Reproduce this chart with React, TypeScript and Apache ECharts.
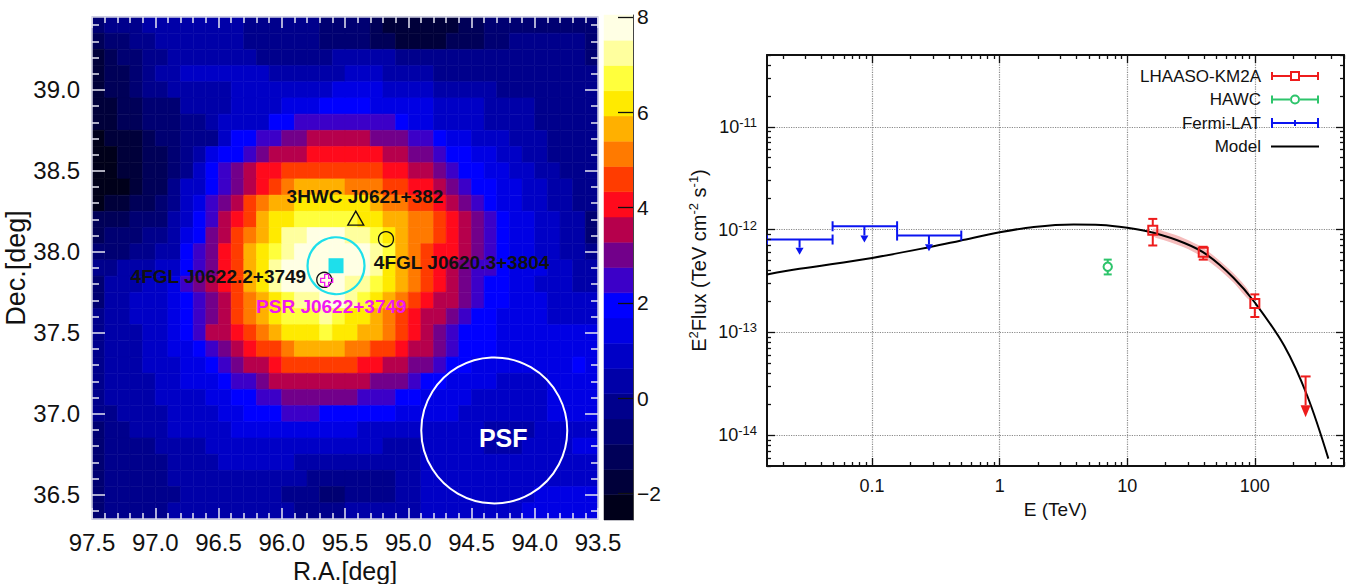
import React, { useEffect, useRef } from "react";
import * as echarts from "echarts";

const FONT = "'Liberation Sans', Arial, Helvetica, sans-serif";

// ---------------- Left panel: significance map ----------------
const raCenters = [97.45, 97.35, 97.25, 97.15, 97.05, 96.95, 96.85, 96.75, 96.65, 96.55, 96.45, 96.35, 96.25, 96.15, 96.05, 95.95, 95.85, 95.75, 95.65, 95.55, 95.45, 95.35, 95.25, 95.15, 95.05, 94.95, 94.85, 94.75, 94.65, 94.55, 94.45, 94.35, 94.25, 94.15, 94.05, 93.95, 93.85, 93.75, 93.65, 93.55];
const decCenters = [39.4, 39.3, 39.2, 39.1, 39.0, 38.9, 38.8, 38.7, 38.6, 38.5, 38.4, 38.3, 38.2, 38.1, 38.0, 37.9, 37.8, 37.7, 37.6, 37.5, 37.4, 37.3, 37.2, 37.1, 37.0, 36.9, 36.8, 36.7, 36.6, 36.5, 36.4];

// significance (sigma), one row per Dec (top to bottom), one column per RA (left to right)
const significance = [
  [-0.7,-0.2,-0.2,-0.2,0.4,0.4,0.4,0.4,0.4,0.4,0.4,0.4,-0.2,-0.2,-0.2,-0.2,-0.2,-0.2,-0.7,-0.7,-0.7,-0.7,-1.2,-1.8,-1.8,-1.8,-1.8,-1.8,-1.8,-1.2,-1.2,-0.7,-0.7,-0.7,-0.7,-0.7,-0.7,-0.7,-0.7,-0.7],
  [-1.2,-0.7,-0.7,-0.2,-0.2,0.4,0.4,0.4,0.4,0.4,0.4,0.4,-0.2,-0.2,-0.2,-0.2,-0.2,-0.2,-0.7,-0.7,-0.7,-0.7,-1.2,-1.2,-1.8,-1.8,-1.8,-1.8,-1.2,-1.2,-1.2,-0.7,-0.7,-0.2,-0.2,-0.2,-0.2,-0.2,-0.2,-0.7],
  [-1.8,-1.2,-0.7,-0.7,-0.2,-0.2,0.4,0.4,0.4,0.4,0.4,0.4,0.4,-0.2,-0.2,-0.2,-0.2,-0.2,-0.2,0.4,0.4,0.4,0.4,0.4,-0.2,-0.2,-0.2,-0.2,-0.2,-0.2,-0.2,-0.2,-0.2,-0.2,-0.2,-0.2,-0.2,-0.2,-0.2,-0.7],
  [-1.8,-1.2,-1.2,-0.7,-0.2,0.4,0.4,0.9,0.9,0.9,0.9,0.9,0.9,0.9,0.4,0.4,0.4,0.4,0.4,0.4,0.9,0.9,0.9,0.4,0.4,0.4,0.4,-0.2,-0.2,-0.2,-0.2,-0.2,-0.2,-0.2,-0.2,-0.2,-0.2,-0.2,-0.2,-0.2],
  [-1.8,-1.2,-1.2,-0.7,-0.2,-0.2,0.4,0.4,0.4,0.4,0.4,0.9,0.9,0.9,0.9,0.9,0.9,0.9,0.9,1.4,1.4,1.4,1.4,0.9,0.9,0.9,0.9,0.4,0.4,0.4,0.4,0.4,-0.2,-0.2,-0.2,-0.2,-0.2,-0.2,-0.2,-0.2],
  [-1.8,-1.8,-1.2,-1.2,-0.7,-0.7,-0.7,0.4,0.4,0.4,0.4,0.9,0.9,0.9,0.9,1.4,1.4,1.4,1.9,1.9,1.9,1.9,1.4,1.4,1.4,1.4,1.4,0.9,0.9,0.9,0.9,0.4,0.4,0.4,0.4,-0.2,-0.2,-0.2,-0.2,-0.2],
  [-1.8,-1.8,-1.2,-1.2,-0.7,-0.7,-0.7,-0.2,-0.2,0.4,0.9,0.9,0.9,0.9,1.9,1.9,2.5,2.5,2.5,2.5,2.5,2.5,2.5,2.5,1.9,1.4,1.4,0.9,0.9,0.9,0.9,0.4,0.4,0.4,0.4,-0.2,-0.2,-0.2,-0.2,-0.2],
  [-2.3,-1.8,-1.8,-1.8,-1.2,-0.7,-0.7,-0.2,-0.2,-0.2,0.9,1.9,1.9,2.5,2.5,3.0,3.0,3.5,3.5,3.5,3.5,3.5,3.0,3.0,3.0,2.5,2.5,1.9,1.4,1.4,0.9,0.9,0.9,0.4,0.4,0.4,-0.2,-0.2,-0.2,-0.2],
  [-2.3,-2.3,-1.8,-1.8,-1.2,-1.2,-0.7,-0.2,0.4,1.4,1.9,1.9,2.5,3.0,3.5,3.5,3.5,4.1,4.1,4.1,4.1,4.1,4.1,3.5,3.5,3.0,3.0,2.5,1.9,1.9,1.4,1.4,0.9,0.9,0.4,0.4,-0.2,-0.2,-0.2,-0.2],
  [-2.3,-2.3,-1.8,-1.8,-1.2,-1.2,-0.7,-0.2,0.9,1.9,2.5,3.0,3.5,4.1,4.1,4.6,4.6,4.6,4.6,4.6,4.6,4.6,4.6,4.1,4.1,3.5,3.5,3.0,2.5,1.9,1.9,1.4,1.4,0.9,0.9,0.4,0.4,-0.2,-0.2,-0.2],
  [-2.3,-2.3,-2.3,-1.8,-1.2,-1.2,-0.2,0.9,0.9,1.9,2.5,3.0,3.5,4.1,4.6,5.1,5.7,5.7,5.7,5.7,5.1,5.1,5.1,4.6,4.6,4.1,4.1,3.5,3.0,2.5,1.9,1.9,1.4,1.4,0.9,0.9,0.4,0.4,-0.2,-0.2],
  [-2.3,-1.8,-1.8,-1.2,-1.2,-0.7,-0.2,0.9,1.4,2.5,3.0,3.5,4.6,5.1,5.7,5.7,6.2,6.2,6.2,6.2,6.2,6.2,5.7,5.1,5.1,4.6,4.6,4.1,3.5,3.0,2.5,1.9,1.4,1.4,0.9,0.9,0.4,0.4,-0.2,-0.2],
  [-1.2,-1.2,-1.2,-0.7,-0.7,-0.7,0.4,0.9,1.9,2.5,3.5,4.1,4.6,5.7,6.2,6.2,6.7,6.7,6.7,6.7,6.7,6.2,6.2,5.7,5.7,5.1,5.1,4.6,4.1,3.5,3.0,2.5,1.9,1.4,1.4,0.9,0.9,0.4,0.4,-0.7],
  [-1.2,-0.7,-0.7,-0.7,-0.2,-0.2,0.4,1.4,1.9,3.0,3.5,4.6,5.1,5.7,6.2,7.2,7.2,7.8,7.8,7.8,7.2,7.2,6.7,6.2,5.7,5.1,5.1,4.6,4.1,3.5,3.0,2.5,1.9,1.4,1.4,0.9,0.9,0.4,0.4,-0.7],
  [-0.7,-0.7,-0.7,-0.2,-0.2,0.4,0.4,1.9,2.5,3.0,4.1,4.6,5.7,6.2,6.7,7.2,7.8,7.8,7.8,7.8,7.8,7.8,7.2,6.7,5.7,5.1,4.6,4.1,4.1,3.5,3.0,2.5,1.9,1.4,1.4,0.9,0.9,0.4,0.4,-0.2],
  [-0.2,-0.2,0.4,0.4,0.4,0.9,0.9,1.9,2.5,3.0,4.1,4.6,5.7,6.2,7.2,7.8,7.8,7.8,7.8,7.8,7.8,7.8,7.2,6.2,5.7,5.1,4.6,4.1,3.5,3.0,2.5,2.5,1.9,1.4,1.4,1.4,0.9,0.9,0.4,0.4],
  [-0.7,0.4,0.4,0.4,0.9,0.9,1.4,2.5,3.0,3.5,4.1,4.6,5.7,6.2,7.2,7.8,7.8,7.8,7.8,7.8,7.2,7.2,6.7,6.2,5.7,5.1,4.6,4.1,3.5,3.0,2.5,1.9,1.9,1.4,1.4,0.9,0.9,0.9,0.4,0.4],
  [-0.7,0.4,0.4,0.9,0.9,0.9,1.4,1.9,2.5,3.0,3.5,4.6,5.1,5.7,6.2,6.7,7.2,7.2,7.8,7.8,7.2,6.7,6.2,5.7,5.1,4.6,4.1,3.5,3.5,3.0,2.5,1.9,1.9,1.4,1.4,1.4,0.9,0.9,0.9,0.9],
  [-0.2,0.4,0.4,0.9,0.9,0.9,1.4,1.9,2.5,3.0,3.5,4.6,5.1,5.7,6.2,6.7,6.7,6.7,7.2,6.7,6.2,6.2,5.7,5.1,4.6,4.1,3.5,3.5,3.0,2.5,1.9,1.9,1.4,1.4,1.4,1.4,0.9,0.9,0.9,0.9],
  [-0.2,0.4,0.4,0.4,0.9,0.9,1.4,1.9,2.5,3.5,3.5,4.1,4.6,5.1,5.7,6.2,6.2,6.2,6.7,6.2,6.2,5.7,5.7,5.1,4.6,4.1,3.5,3.0,2.5,1.9,1.9,1.9,1.4,1.4,1.4,1.4,1.4,1.4,1.4,1.4],
  [-0.2,0.4,0.4,0.4,0.9,0.9,1.4,1.4,1.9,2.5,3.0,3.5,4.1,4.6,4.6,5.1,5.7,5.7,5.7,5.7,5.1,5.1,4.6,4.6,4.1,3.5,3.5,3.0,2.5,1.9,1.9,1.9,1.4,1.4,1.4,1.4,1.4,1.4,1.4,1.4],
  [-0.2,0.4,0.4,0.4,0.9,0.9,0.9,1.4,1.4,1.9,2.5,3.0,3.5,3.5,4.1,4.6,4.6,4.6,4.6,4.6,4.6,4.1,4.1,3.5,3.5,3.0,3.0,2.5,1.9,1.9,1.4,1.4,1.4,1.4,1.4,1.4,1.4,1.4,1.9,1.4],
  [-0.2,0.4,0.4,0.4,0.4,0.9,0.9,1.4,1.4,1.4,1.9,2.5,2.5,3.0,3.5,3.5,3.5,3.5,3.5,3.5,3.5,3.5,3.0,3.0,3.0,2.5,1.9,1.9,1.4,1.4,1.4,1.4,0.9,0.9,0.9,0.9,1.4,1.4,1.4,1.4],
  [-0.2,0.4,0.4,0.4,0.4,0.9,0.9,0.9,0.9,1.4,1.4,1.9,1.9,2.5,2.5,3.0,3.0,3.0,3.0,3.0,3.0,2.5,2.5,2.5,1.9,1.9,1.4,1.4,1.4,1.4,0.9,0.9,0.9,0.9,0.9,0.9,1.4,1.4,1.4,1.4],
  [-0.2,-0.2,0.4,0.4,0.4,0.4,0.9,0.9,0.9,0.9,1.4,1.4,1.9,1.9,1.9,2.5,2.5,2.5,1.9,1.9,1.9,1.9,1.9,1.9,1.4,1.4,1.4,1.4,1.4,0.9,0.9,0.9,0.9,0.9,0.9,0.9,1.4,1.4,1.4,1.4],
  [-0.7,-0.2,-0.2,0.4,0.4,0.4,0.9,0.9,0.9,0.9,0.9,1.4,1.4,1.4,1.4,1.4,1.4,1.4,1.4,1.4,1.4,0.9,0.9,0.9,0.9,0.9,0.9,0.9,0.9,0.9,0.9,0.4,0.4,0.4,0.4,0.9,0.9,0.9,0.9,0.9],
  [-0.7,-0.2,-0.2,-0.2,-0.2,0.4,0.4,0.4,0.4,0.9,0.9,0.9,0.9,0.9,0.9,0.9,0.9,0.9,0.9,0.9,0.9,0.9,0.9,0.4,0.4,0.4,0.9,0.9,0.9,0.9,0.9,0.4,0.4,0.4,0.9,0.9,0.9,0.9,1.4,1.4],
  [-0.7,-0.2,-0.2,-0.2,-0.2,-0.2,0.4,0.4,0.4,0.4,0.9,0.9,0.9,0.9,0.9,0.9,0.4,0.4,0.4,0.4,0.4,0.4,0.4,0.4,0.4,0.4,0.9,0.9,0.9,0.9,0.9,0.9,0.9,0.9,0.9,0.9,0.9,0.9,0.9,0.9],
  [-0.7,-0.2,-0.2,-0.2,-0.2,-0.2,0.4,0.4,0.4,0.4,0.4,0.4,0.4,0.4,0.4,0.4,0.4,-0.2,-0.2,-0.2,-0.2,-0.2,-0.2,-0.2,0.4,0.4,0.9,0.9,0.9,0.9,0.9,0.9,0.9,0.9,0.9,0.9,0.9,0.9,0.9,0.9],
  [-0.7,-0.2,-0.2,-0.2,-0.2,-0.2,-0.2,0.4,0.4,0.4,0.4,0.4,0.4,0.4,0.4,-0.2,-0.2,-0.2,-0.7,-0.7,-0.2,-0.2,-0.2,-0.2,0.4,0.4,0.9,0.9,0.9,0.9,0.9,0.9,0.9,0.9,0.9,1.4,1.4,1.4,1.4,1.4],
  [-0.7,-0.2,-0.2,-0.2,-0.2,-0.2,0.4,0.4,0.4,0.4,0.4,0.4,0.4,0.4,0.4,0.4,-0.2,-0.2,-0.2,-0.2,0.4,0.4,0.4,0.4,0.4,0.4,0.9,0.9,0.9,0.9,0.9,0.9,0.9,0.9,1.4,1.4,1.4,1.4,1.4,1.4],
];

// colour scale (20 levels)
const cbEdges = [-2.56, -2.03, -1.5, -0.97, -0.44, 0.09, 0.62, 1.15, 1.68, 2.21, 2.74, 3.27, 3.8, 4.33, 4.86, 5.39, 5.92, 6.45, 6.98, 7.51, 8.04];
const cbColors = ["#00001a", "#00003a", "#000058", "#000072", "#00008c", "#0000a8", "#0000c6", "#0000e4", "#0000ff", "#3c00c8", "#72008a", "#b6004c", "#ff0a1c", "#ff3c00", "#ff7a00", "#ffb000", "#ffea00", "#ffff3c", "#ffff9e", "#ffffe4"];
const cbTicks = [-2, 0, 2, 4, 6, 8];

// axis ticks
const raMajor = [97.5, 97.0, 96.5, 96.0, 95.5, 95.0, 94.5, 94.0, 93.5];
const decMajor = [36.5, 37.0, 37.5, 38.0, 38.5, 39.0];

// source markers (RA, Dec)
const hawcSrc = [[95.415, 38.208]];
const fglSrc = [[95.176, 38.078], [95.664, 37.827]];
const lhaasoPos = [[95.571, 37.914]];
const psrPos = [[95.645, 37.823]];
const psfPos = [[94.32, 36.897]];
const centerLabels = [{ name: "3HWC J0621+382", pos: [95.342, 38.341] }];
const rightOfLabels = [{ name: "4FGL J0620.3+3804", pos: [95.276, 37.936] }];
const leftOfLabels = [{ name: "4FGL J0622.2+3749", pos: [95.803, 37.848] }];
const psrLabels = [{ name: "PSR J0622+3749", pos: [95.608, 37.662] }];
const psfLabels = [{ name: "PSF", pos: [94.249, 36.85] }];

// ---------------- Right panel: SED ----------------
const modelE = [0.015, 0.027, 0.1, 0.29, 0.49, 1.0, 1.85, 3.8, 6.2, 10, 16, 28, 42, 68, 100, 170, 258, 377];
const modelF = [3.66e-13, 4.15e-13, 5.3e-13, 6.8e-13, 7.8e-13, 9.4e-13, 1.06e-12, 1.12e-12, 1.11e-12, 1.04e-12, 9.3e-13, 7.4e-13, 5.7e-13, 3.4e-13, 1.95e-13, 7.4e-14, 2.4e-14, 5.9e-15];
const bandE = [16, 20, 28, 38, 50, 68, 90];
const bandUpper = [1.02e-12, 9.5e-13, 8.2e-13, 6.8e-13, 5.3e-13, 3.75e-13, 2.5e-13];
const bandLower = [8.6e-13, 7.8e-13, 6.7e-13, 5.5e-13, 4.3e-13, 3.05e-13, 2.08e-13];

const km2aE = [15.85, 39.4, 100];
const km2aF = [9.85e-13, 6.0e-13, 1.91e-13];
const km2aLo = [7.0e-13, 5.1e-13, 1.41e-13];
const km2aHi = [1.27e-12, 6.8e-13, 2.34e-13];
const km2aUlE = [250];
const km2aUl = [3.72e-14];
const km2aUlTip = [1.49e-14];

const hawcE = [7.03];
const hawcF = [4.34e-13];
const hawcLo = [3.66e-13];
const hawcHi = [5.1e-13];

const fermiElo = [0.015, 0.049, 0.157];
const fermiEhi = [0.049, 0.157, 0.5];
const fermiEc = [0.027, 0.087, 0.279];
const fermiUl = [8.0e-13, 1.077e-12, 8.74e-13];
const fermiTip = [5.7e-13, 7.5e-13, 6.16e-13];

const eMajor = [0.1, 1, 10, 100];
const fMajor = [1e-14, 1e-13, 1e-12, 1e-11];

const RED = "#ee1c1c";
const GREEN = "#2dc46b";
const BLUE = "#0a14f0";
const CYAN = "#1edfeb";
const MAGENTA = "#f018f0";

function minorLog(decades: number[], lo: number, hi: number) {
  const out: number[] = [];
  decades.forEach((d) => {
    for (let k = 2; k <= 9; k++) {
      const v = k * d;
      if (v >= lo && v <= hi) out.push(v);
    }
  });
  return out;
}
function minorLin(from: number, to: number) {
  const out: number[] = [];
  for (let k = from; k <= to; k++) if (k % 5 !== 0) out.push(k / 10);
  return out;
}

function colorFor(v: number) {
  for (let i = 0; i < cbColors.length; i++) {
    if (v < cbEdges[i + 1]) return cbColors[i];
  }
  return cbColors[cbColors.length - 1];
}

function buildOption() {
  const raMinor = minorLin(936, 974);
  const decMinor = minorLin(364, 394);
  const eMinor = minorLog([0.01, 0.1, 1, 10, 100], 0.015, 500);
  const fMinor = minorLog([1e-15, 1e-14, 1e-13, 1e-12, 1e-11], 5e-15, 5e-11);

  const heatData: number[][] = [];
  significance.forEach((row, r) => row.forEach((v, c) => heatData.push([c, r, v])));
  const cbData = cbColors.map((_, i) => [0, cbEdges[i], cbEdges[i + 1], i]);

  const mapTickColor = "#e6e6f2";
  const mapFrame = "#d2d2e6";
  const txt = { color: "#111", fontFamily: FONT };

  const mapX = (pos: string, values: number[], len: number, main: boolean, extra: any = {}) => ({
    type: "value", gridIndex: 0, min: 93.5, max: 97.5, inverse: true, position: pos, z: 10,
    axisLine: { show: main, onZero: false, lineStyle: { color: mapFrame, width: 1.5 } },
    axisTick: { show: true, inside: true, length: len, customValues: values, lineStyle: { color: mapTickColor, width: 1.5 } },
    axisLabel: { show: false },
    splitLine: { show: false },
    ...extra,
  });
  const mapY = (pos: string, values: number[], len: number, main: boolean, extra: any = {}) => ({
    type: "value", gridIndex: 0, min: 36.35, max: 39.45, position: pos, z: 10,
    axisLine: { show: main, onZero: false, lineStyle: { color: mapFrame, width: 1.5 } },
    axisTick: { show: true, inside: true, length: len, customValues: values, lineStyle: { color: mapTickColor, width: 1.5 } },
    axisLabel: { show: false },
    splitLine: { show: false },
    ...extra,
  });
  const sedX = (pos: string, values: number[], len: number, main: boolean, extra: any = {}) => ({
    type: "log", logBase: 10, gridIndex: 2, min: 0.015, max: 500, position: pos, z: 5,
    axisLine: { show: main, onZero: false, lineStyle: { color: "#111", width: 2 } },
    axisTick: { show: true, inside: true, length: len, customValues: values, lineStyle: { color: "#111", width: 1.3 } },
    axisLabel: { show: false },
    splitLine: { show: false },
    ...extra,
  });
  const sedY = (pos: string, values: number[], len: number, main: boolean, extra: any = {}) => ({
    type: "log", logBase: 10, gridIndex: 2, min: 5e-15, max: 5e-11, position: pos, z: 5,
    axisLine: { show: main, onZero: false, lineStyle: { color: "#111", width: 2 } },
    axisTick: { show: true, inside: true, length: len, customValues: values, lineStyle: { color: "#111", width: 1.3 } },
    axisLabel: { show: false },
    splitLine: { show: false },
    ...extra,
  });

  const hollow = (color: string, w = 1.3) => ({ color: "rgba(0,0,0,0)", borderColor: color, borderWidth: w, opacity: 1 });

  const labelItems = (items: any[], label: any) =>
    items.map((it) => ({ value: it.pos, name: it.name, label: { show: true, formatter: "{b}", distance: 0, ...label } }));
  const boldLbl = { fontSize: 19, fontWeight: "bold", fontFamily: FONT, color: "#111" };

  const iconKm2a = "path://M0,1H2V9H0Z M46,1H48V9H46Z M2,4H19V6H2Z M29,4H46V6H29Z M19,0H29V10H19Z M21,2V8H27V2Z";
  const iconHawc = "path://M0,1H2V9H0Z M46,1H48V9H46Z M2,4H19.2V6H2Z M28.8,4H46V6H28.8Z M19,5A5,5 0 1,0 29,5A5,5 0 1,0 19,5Z M21,5A3,3 0 1,1 27,5A3,3 0 1,1 21,5Z";
  const iconFermi = "path://M0,0H2V10H0Z M46,0H48V10H46Z M2,4H46V6H2Z M23,2H25V8H23Z";
  const iconModel = "path://M0,4H48V6H0Z";

  const seg = (x1: number, y1: number, x2: number, y2: number, color: string, w = 2) => ({
    type: "line", shape: { x1, y1, x2, y2 }, style: { stroke: color, lineWidth: w },
  });

  const scatterBase = { type: "scatter", xAxisIndex: 1, yAxisIndex: 1, silent: true };

  return {
    animation: false,
    backgroundColor: "#ffffff",
    textStyle: { fontFamily: FONT },
    grid: [
      { left: 92, top: 17, width: 506, height: 502, containLabel: false, outerBoundsMode: "none" },
      { left: 604, top: 15, width: 29, height: 505, containLabel: false, outerBoundsMode: "none" },
      { left: 767, top: 55, width: 577, height: 411, containLabel: false, outerBoundsMode: "none" },
    ],
    legend: {
      orient: "vertical", right: 27, top: 62, align: "right", itemWidth: 48, itemHeight: 10, itemGap: 5.5,
      selectedMode: false,
      textStyle: { fontSize: 17, color: "#111", fontFamily: FONT, lineHeight: 18, padding: [0, 5, 0, 0] },
      itemStyle: { borderWidth: 0 },
      data: [
        { name: "LHAASO-KM2A", icon: iconKm2a },
        { name: "HAWC", icon: iconHawc },
        { name: "Fermi-LAT", icon: iconFermi },
        { name: "Model", icon: iconModel },
      ],
    },
    xAxis: [
      { type: "category", gridIndex: 0, data: raCenters.map(String), show: false },
      mapX("bottom", raMajor, 11, true, {
        axisLabel: { show: true, customValues: raMajor, formatter: (v: number) => v.toFixed(1), fontSize: 24, margin: 11, ...txt },
        name: "R.A.[deg]", nameLocation: "middle", nameGap: 35, nameTextStyle: { fontSize: 25, ...txt },
      }),
      mapX("bottom", raMinor, 6, false),
      mapX("top", raMajor, 11, true),
      mapX("top", raMinor, 6, false),
      { type: "category", gridIndex: 1, data: ["cb"], show: false },
      sedX("bottom", eMajor, 8, true, {
        axisLabel: { show: true, customValues: eMajor, formatter: (v: number) => String(+v.toPrecision(3)), fontSize: 18, margin: 11, ...txt },
        splitLine: { show: true, lineStyle: { type: "dotted", color: "#8a8a8a", width: 1.2 } },
        name: "E (TeV)", nameLocation: "middle", nameGap: 32, nameTextStyle: { fontSize: 19, ...txt },
        z: 0,
      }),
      sedX("bottom", eMinor, 4, false),
      sedX("top", eMajor, 8, true),
      sedX("top", eMinor, 4, false),
    ],
    yAxis: [
      { type: "category", gridIndex: 0, data: decCenters.map(String), inverse: true, show: false },
      mapY("left", decMajor, 13, true, {
        axisLabel: { show: true, customValues: decMajor, formatter: (v: number) => v.toFixed(1), fontSize: 24, margin: 12, ...txt },
        name: "Dec.[deg]", nameLocation: "middle", nameGap: 62, nameTextStyle: { fontSize: 27, ...txt },
      }),
      mapY("left", decMinor, 7, false),
      mapY("right", decMajor, 13, true),
      mapY("right", decMinor, 7, false),
      {
        type: "value", gridIndex: 1, min: -2.56, max: 8.04, position: "right", z: 10,
        axisLine: { show: true, onZero: false, lineStyle: { color: "#444", width: 1 } },
        axisTick: { show: true, inside: true, length: 15, customValues: cbTicks, lineStyle: { color: "#111", width: 1.3 } },
        axisLabel: { show: true, customValues: cbTicks, formatter: (v: number) => (v < 0 ? "\u2212" + Math.abs(v) : String(v)), fontSize: 21, margin: 4, ...txt },
        splitLine: { show: false },
      },
      sedY("left", fMajor, 8, true, {
        axisLabel: {
          show: true, customValues: fMajor, margin: 10,
          formatter: (v: number) => `{m|10}{e|${Math.round(Math.log10(v))}}`,
          rich: {
            m: { fontSize: 18, lineHeight: 22, ...txt },
            e: { fontSize: 13, lineHeight: 11, verticalAlign: "top", ...txt },
          },
        },
        splitLine: { show: true, lineStyle: { type: "dotted", color: "#8a8a8a", width: 1.2 } },
        name: "{a|E}{s|2}{a|Flux (TeV cm}{s|-2}{a| s}{s|-1}{a|)}",
        nameLocation: "middle", nameGap: 56,
        nameTextStyle: {
          rich: {
            a: { fontSize: 20, lineHeight: 24, ...txt },
            s: { fontSize: 13, lineHeight: 11, verticalAlign: "top", ...txt },
          },
        },
        z: 0,
      }),
      sedY("left", fMinor, 4, false),
      sedY("right", fMajor, 8, true),
      sedY("right", fMinor, 4, false),
    ],
    series: [
      {
        type: "custom", name: "map", xAxisIndex: 0, yAxisIndex: 0, silent: true, z: 1,
        data: heatData, encode: { x: 0, y: 1 },
        renderItem: (params: any, api: any) => {
          const p = api.coord([api.value(0), api.value(1)]);
          const s = api.size([1, 1]);
          const col = colorFor(api.value(2));
          return {
            type: "rect",
            shape: { x: p[0] - s[0] / 2, y: p[1] - s[1] / 2, width: s[0], height: s[1] },
            style: { fill: col, stroke: col, lineWidth: 0.6 },
          };
        },
      },
      {
        type: "custom", name: "colorbar", xAxisIndex: 5, yAxisIndex: 5, silent: true, z: 1,
        data: cbData, encode: { x: 0, y: [1, 2] },
        renderItem: (params: any, api: any) => {
          const top = api.coord([0, api.value(2)]);
          const bot = api.coord([0, api.value(1)]);
          const w = api.size([1, 0])[0];
          const col = cbColors[api.value(3)];
          return {
            type: "rect",
            shape: { x: top[0] - w / 2, y: top[1], width: w, height: bot[1] - top[1] },
            style: { fill: col, stroke: col, lineWidth: 0.5 },
          };
        },
      },
      // markers on the map
      { ...scatterBase, name: "lhaasoExt", z: 3, symbol: "circle", symbolSize: 57, itemStyle: hollow(CYAN, 2.2), data: lhaasoPos },
      { ...scatterBase, name: "lhaasoPos", z: 3, symbol: "rect", symbolSize: 15, itemStyle: { color: CYAN, opacity: 1 }, data: lhaasoPos },
      { ...scatterBase, name: "hawcSrc", z: 3, symbol: "triangle", symbolSize: [16, 14], itemStyle: hollow("#111", 1.3), data: hawcSrc },
      { ...scatterBase, name: "fglSrc", z: 3, symbol: "circle", symbolSize: 15, itemStyle: hollow("#111", 1.3), data: fglSrc },
      { ...scatterBase, name: "psr", z: 4, symbol: "path://M4,0H8V4H12V8H8V12H4V8H0V4H4Z", symbolSize: 12, itemStyle: hollow(MAGENTA, 1.3), data: psrPos },
      { ...scatterBase, name: "psf", z: 3, symbol: "circle", symbolSize: 146, itemStyle: hollow("#ffffff", 2), data: psfPos },
      {
        ...scatterBase, name: "labels", z: 5, symbol: "circle", symbolSize: 1,
        itemStyle: { color: "rgba(0,0,0,0)", opacity: 1 },
        data: [
          ...labelItems(centerLabels, { position: "inside", ...boldLbl }),
          ...labelItems(rightOfLabels, { position: "right", ...boldLbl }),
          ...labelItems(leftOfLabels, { position: "left", ...boldLbl }),
          ...labelItems(psrLabels, { position: "inside", ...boldLbl, color: MAGENTA }),
          ...labelItems(psfLabels, { position: "inside", ...boldLbl, fontSize: 25, color: "#ffffff" }),
        ],
      },
      // SED
      {
        type: "custom", name: "band", xAxisIndex: 6, yAxisIndex: 6, silent: true, z: 2, clip: true,
        data: [[bandE[0], bandUpper[0]]],
        renderItem: (params: any, api: any) => {
          const pts: number[][] = [];
          bandE.forEach((e, i) => pts.push(api.coord([e, bandUpper[i]])));
          for (let i = bandE.length - 1; i >= 0; i--) pts.push(api.coord([bandE[i], bandLower[i]]));
          return { type: "polygon", shape: { points: pts, smooth: 0.3 }, style: { fill: "#f5bcbc", stroke: "none" } };
        },
      },
      {
        type: "line", name: "Model", xAxisIndex: 6, yAxisIndex: 6, silent: true, z: 3, clip: true,
        data: modelE.map((e, i) => [e, modelF[i]]), showSymbol: false, symbol: "none", smooth: 0.35,
        lineStyle: { color: "#000", width: 2 }, itemStyle: { color: "#000" },
      },
      {
        type: "custom", name: "HAWC", xAxisIndex: 6, yAxisIndex: 6, silent: true, z: 4, clip: true,
        itemStyle: { color: GREEN },
        data: hawcE.map((e, i) => [e, hawcF[i], hawcLo[i], hawcHi[i]]), encode: { x: 0, y: 1 },
        renderItem: (params: any, api: any) => {
          const e = api.value(0);
          const p = api.coord([e, api.value(1)]);
          const lo = api.coord([e, api.value(2)]);
          const hi = api.coord([e, api.value(3)]);
          const r = 4.2, cw = 4;
          return {
            type: "group",
            children: [
              seg(p[0], hi[1], p[0], p[1] - r, GREEN),
              seg(p[0], p[1] + r, p[0], lo[1], GREEN),
              seg(p[0] - cw, hi[1], p[0] + cw, hi[1], GREEN),
              seg(p[0] - cw, lo[1], p[0] + cw, lo[1], GREEN),
              { type: "circle", shape: { cx: p[0], cy: p[1], r }, style: { fill: "none", stroke: GREEN, lineWidth: 2 } },
            ],
          };
        },
      },
      {
        type: "custom", name: "Fermi-LAT", xAxisIndex: 6, yAxisIndex: 6, silent: true, z: 4, clip: true,
        itemStyle: { color: BLUE },
        data: fermiEc.map((e, i) => [e, fermiUl[i], fermiElo[i], fermiEhi[i], fermiTip[i]]), encode: { x: 0, y: 1 },
        renderItem: (params: any, api: any) => {
          const ul = api.value(1);
          const pc = api.coord([api.value(0), ul]);
          const pl = api.coord([api.value(2), ul]);
          const ph = api.coord([api.value(3), ul]);
          const pt = api.coord([api.value(0), api.value(4)]);
          const ch = 5, aw = 4, ah = 7;
          return {
            type: "group",
            children: [
              seg(pl[0], pl[1], ph[0], ph[1], BLUE),
              seg(pl[0], pl[1] - ch, pl[0], pl[1] + ch, BLUE),
              seg(ph[0], ph[1] - ch, ph[0], ph[1] + ch, BLUE),
              seg(pc[0], pc[1], pc[0], pt[1] - ah, BLUE),
              { type: "polygon", shape: { points: [[pc[0] - aw, pt[1] - ah], [pc[0] + aw, pt[1] - ah], [pc[0], pt[1]]] }, style: { fill: BLUE } },
            ],
          };
        },
      },
      {
        type: "custom", name: "LHAASO-KM2A", xAxisIndex: 6, yAxisIndex: 6, silent: true, z: 5, clip: true,
        itemStyle: { color: RED },
        data: km2aE.map((e, i) => [e, km2aF[i], km2aLo[i], km2aHi[i]]), encode: { x: 0, y: 1 },
        renderItem: (params: any, api: any) => {
          const e = api.value(0);
          const p = api.coord([e, api.value(1)]);
          const lo = api.coord([e, api.value(2)]);
          const hi = api.coord([e, api.value(3)]);
          const h = 4.5, cw = 4.5;
          return {
            type: "group",
            children: [
              seg(p[0], hi[1], p[0], p[1] - h, RED),
              seg(p[0], p[1] + h, p[0], lo[1], RED),
              seg(p[0] - cw, hi[1], p[0] + cw, hi[1], RED),
              seg(p[0] - cw, lo[1], p[0] + cw, lo[1], RED),
              { type: "rect", shape: { x: p[0] - h, y: p[1] - h, width: 2 * h, height: 2 * h }, style: { fill: "none", stroke: RED, lineWidth: 2 } },
            ],
          };
        },
      },
      {
        type: "custom", name: "LHAASO-KM2A", xAxisIndex: 6, yAxisIndex: 6, silent: true, z: 5, clip: true,
        itemStyle: { color: RED },
        data: km2aUlE.map((e, i) => [e, km2aUl[i], km2aUlTip[i]]), encode: { x: 0, y: 1 },
        renderItem: (params: any, api: any) => {
          const e = api.value(0);
          const p = api.coord([e, api.value(1)]);
          const t = api.coord([e, api.value(2)]);
          const cw = 5, aw = 5, ah = 12;
          return {
            type: "group",
            children: [
              seg(p[0] - cw, p[1], p[0] + cw, p[1], RED),
              seg(p[0], p[1], p[0], t[1] - ah, RED),
              { type: "polygon", shape: { points: [[p[0] - aw, t[1] - ah], [p[0] + aw, t[1] - ah], [p[0], t[1]]] }, style: { fill: RED } },
            ],
          };
        },
      },
    ],
  };
}

export default function App() {
  const ref = useRef<HTMLDivElement | null>(null);
  useEffect(() => {
    if (!ref.current) return;
    const chart = echarts.init(ref.current, undefined, { renderer: "svg" });
    chart.setOption(buildOption() as any);
    return () => chart.dispose();
  }, []);
  return (
    <div
      ref={ref}
      style={{ position: "fixed", left: 0, top: 0, width: 1351, height: 584, background: "#fff" }}
    />
  );
}
